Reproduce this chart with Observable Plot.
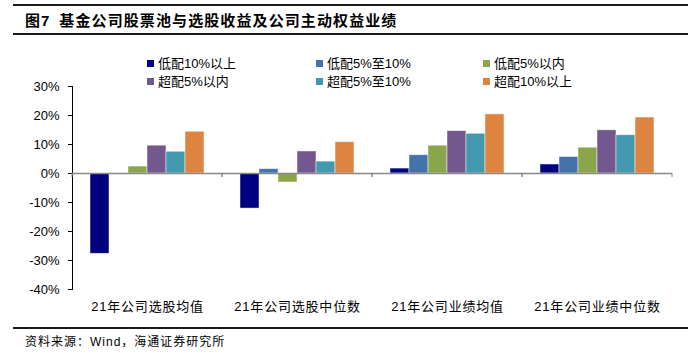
<!DOCTYPE html>
<html><head><meta charset="utf-8">
<script src="https://cdn.jsdelivr.net/npm/d3@7"></script>
<script src="https://cdn.jsdelivr.net/npm/@observablehq/plot@0.6"></script>
<style>
body{margin:0;background:#fff}
#wrap{position:relative;width:700px;height:353px;font-family:"Liberation Sans","Noto Sans CJK SC",sans-serif;color:#000;overflow:hidden;background:#fff}
.hr{position:absolute;left:13px;width:675px;background:#1a1a1a}
#title{position:absolute;left:25px;top:11px;font-weight:bold;font-size:15px;line-height:20px;white-space:nowrap;font-family:"Liberation Sans","Noto Sans CJK SC",sans-serif}
#title .fig{letter-spacing:1px}
#title .rest{margin-left:9px;letter-spacing:1.1px}
#legend{position:absolute;left:0;top:0;width:700px;height:100px}
.li{position:absolute;font-size:13px;line-height:16px;white-space:nowrap}
.sw{display:inline-block;width:7px;height:7px;margin-right:4px;vertical-align:1px}
#caption{position:absolute;left:25px;top:334px;font-size:12px;line-height:16px;letter-spacing:1px;white-space:nowrap}
#chart{position:absolute;left:0;top:76px}
#chart [aria-label^="fx-axis"] text{letter-spacing:0.8px}
</style></head>
<body>
<div id="wrap">
  <div class="hr" style="top:4px;height:2px"></div>
  <div id="title"><span class="fig">图7</span><span class="rest">基金公司股票池与选股收益及公司主动权益业绩</span></div>
  <div class="hr" style="top:33px;height:2px"></div>
  <div id="legend"></div>
  <div id="chart"></div>
  <div class="hr" style="top:327px;height:2px"></div>
  <div id="caption">资料来源：Wind，海通证券研究所</div>
</div>
<script>
const categories = ["21年公司选股均值", "21年公司选股中位数", "21年公司业绩均值", "21年公司业绩中位数"];
const series = ["低配10%以上", "低配5%至10%", "低配5%以内", "超配5%以内", "超配5%至10%", "超配10%以上"];
const underweight10 = [-27.7, -12.1, 1.7, 3.1];
const underweight5to10 = [0, 1.5, 6.3, 5.7];
const underweight5 = [2.4, -3.1, 9.6, 8.9];
const overweight5 = [9.6, 7.6, 14.6, 14.9];
const overweight5to10 = [7.5, 4.1, 13.7, 13.2];
const overweight10 = [14.4, 10.8, 20.4, 19.3];
const colors = ["#000080", "#4472AA", "#8BA54B", "#73578F", "#4198AF", "#DD8441"];
const yTicks = [-40, -30, -20, -10, 0, 10, 20, 30];

const seriesValues = [underweight10, underweight5to10, underweight5, overweight5, overweight5to10, overweight10];
const rows = [];
categories.forEach((c, i) => series.forEach((s, j) => rows.push({category: c, series: s, value: seriesValues[j][i]})));

// legend
const legendPos = [[147, 56], [316, 56], [483, 56], [147, 74], [316, 74], [483, 74]];
const legend = document.getElementById("legend");
series.forEach((s, j) => {
  const d = document.createElement("div");
  d.className = "li";
  d.style.left = legendPos[j][0] + "px";
  d.style.top = legendPos[j][1] + "px";
  d.innerHTML = `<span class="sw" style="background:${colors[j]}"></span>${s}`;
  legend.appendChild(d);
});

// small tick marks below the zero line at category boundaries
const boundaryTicks = (index, scales) => {
  const g = d3.create("svg:g");
  const [r0, r1] = scales.x.range();
  const y0 = scales.y(0);
  for (const xx of [r0, r1]) {
    g.append("line").attr("x1", xx).attr("x2", xx).attr("y1", y0).attr("y2", y0 + 4)
      .attr("stroke", "#888").attr("stroke-width", 1);
  }
  return g.node();
};

const chart = Plot.plot({
  width: 700,
  height: 245,
  marginLeft: 70,
  marginRight: 27,
  marginTop: 10,
  marginBottom: 32,
  style: {fontFamily: '"Liberation Sans","Noto Sans CJK SC",sans-serif', fontSize: "13px", background: "transparent", color: "#000"},
  facet: {data: rows, x: "category"},
  fx: {domain: categories, padding: 0, label: null, tickSize: 0, tickPadding: 12, axis: "bottom"},
  x: {domain: series, paddingInner: 0, paddingOuter: 0.845, axis: null},
  y: {domain: [-40, 30], ticks: yTicks, tickFormat: d => d + "%", tickSize: 4, tickPadding: 9, label: null, line: true},
  color: {domain: series, range: colors},
  marks: [
    Plot.barY(rows, {x: "series", y: "value", fill: "series", stroke: "#fff", strokeOpacity: 0.6, strokeWidth: 0.8}),
    Plot.ruleY([0], {stroke: "#888", strokeWidth: 1.5}),
    boundaryTicks
  ]
});
document.getElementById("chart").appendChild(chart);
</script>
</body></html>
